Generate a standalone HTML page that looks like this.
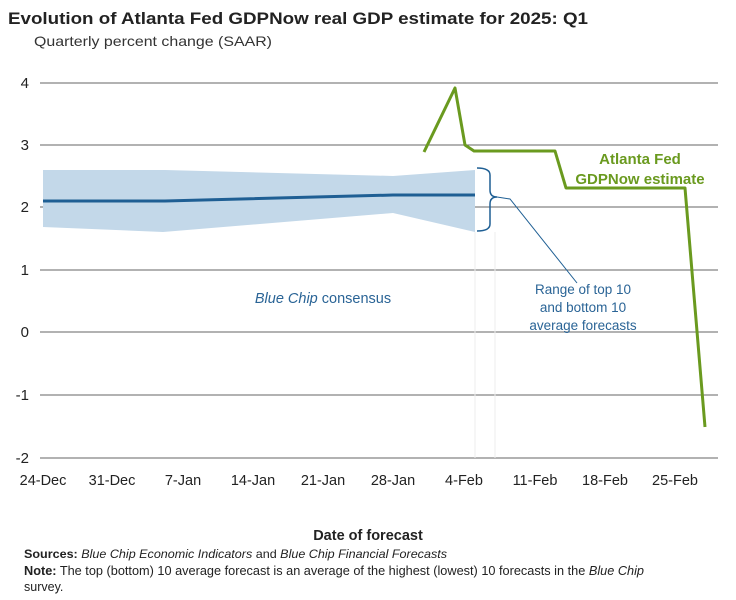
<!DOCTYPE html>
<html><head><meta charset="utf-8"><style>
body{margin:0;background:#fff;font-family:"Liberation Sans",sans-serif;}
</style></head><body>
<svg width="736" height="595" xmlns="http://www.w3.org/2000/svg" font-family="Liberation Sans, sans-serif">
<text x="8" y="24" font-size="17" font-weight="bold" fill="#222" textLength="580" lengthAdjust="spacingAndGlyphs">Evolution of Atlanta Fed GDPNow real GDP estimate for 2025: Q1</text>
<text x="34" y="46" font-size="14" fill="#333" textLength="238" lengthAdjust="spacingAndGlyphs">Quarterly percent change (SAAR)</text>
<g stroke="#666" stroke-width="1">
<line x1="40" x2="718" y1="83" y2="83"/><line x1="40" x2="718" y1="145" y2="145"/>
<line x1="40" x2="718" y1="207" y2="207"/><line x1="40" x2="718" y1="270" y2="270"/>
<line x1="40" x2="718" y1="332" y2="332"/><line x1="40" x2="718" y1="395" y2="395"/>
<line x1="40" x2="718" y1="458" y2="458"/>
</g>
<g font-size="15" fill="#222" text-anchor="end">
<text x="29" y="88">4</text><text x="29" y="150">3</text><text x="29" y="212">2</text><text x="29" y="275">1</text><text x="29" y="337">0</text><text x="29" y="400">-1</text><text x="29" y="463">-2</text>
</g>
<line x1="475" x2="475" y1="232" y2="458" stroke="#eee"/>
<line x1="495" x2="495" y1="232" y2="458" stroke="#eee"/>
<polygon points="43,170 165,170 393,176 475,170 475,232 393,213 163,232 43,227" fill="#c3d8e9"/>
<polyline points="43,201 165,201 393,195 475,195" fill="none" stroke="#1f5f94" stroke-width="3"/>
<path d="M477,168 Q490,168 490,175 L490,190 Q490,197 497,197 Q490,197 490,204 L490,224 Q490,231 477,231" fill="none" stroke="#1f5f94" stroke-width="1.5"/>
<polyline points="497,197 510,199 577,283" fill="none" stroke="#1f5f94" stroke-width="1"/>
<polyline points="424,152 455,88 465,145 474,151 555,151 566,188 685,188 705,427" fill="none" stroke="#6a9a1f" stroke-width="3" stroke-linejoin="round"/>
<g font-size="15" font-weight="bold" fill="#6a9a1f" text-anchor="middle">
<text x="640" y="164">Atlanta Fed</text><text x="640" y="184">GDPNow estimate</text>
</g>
<g font-size="13.5" fill="#2a6496" text-anchor="middle">
<text x="583" y="294">Range of top 10</text><text x="583" y="312">and bottom 10</text><text x="583" y="330">average forecasts</text>
</g>
<text x="323" y="303" font-size="14.5" fill="#2a6496" text-anchor="middle"><tspan font-style="italic">Blue Chip</tspan> consensus</text>
<g font-size="14.5" fill="#222" text-anchor="middle">
<text x="43" y="485">24-Dec</text><text x="112" y="485">31-Dec</text><text x="183" y="485">7-Jan</text><text x="253" y="485">14-Jan</text><text x="323" y="485">21-Jan</text><text x="393" y="485">28-Jan</text><text x="464" y="485">4-Feb</text><text x="535" y="485">11-Feb</text><text x="605" y="485">18-Feb</text><text x="675" y="485">25-Feb</text>
</g>
<text x="368" y="540" font-size="14.5" font-weight="bold" fill="#222" text-anchor="middle">Date of forecast</text>
<text x="24" y="558" font-size="12" fill="#222" textLength="423" lengthAdjust="spacingAndGlyphs"><tspan font-weight="bold">Sources:</tspan> <tspan font-style="italic">Blue Chip Economic Indicators</tspan> and <tspan font-style="italic">Blue Chip Financial Forecasts</tspan></text>
<text x="24" y="575" font-size="12.5" fill="#222" textLength="620" lengthAdjust="spacingAndGlyphs"><tspan font-weight="bold">Note:</tspan> The top (bottom) 10 average forecast is an average of the highest (lowest) 10 forecasts in the <tspan font-style="italic">Blue Chip</tspan></text>
<text x="24" y="591" font-size="12.5" fill="#222">survey.</text>
</svg>
</body></html>
